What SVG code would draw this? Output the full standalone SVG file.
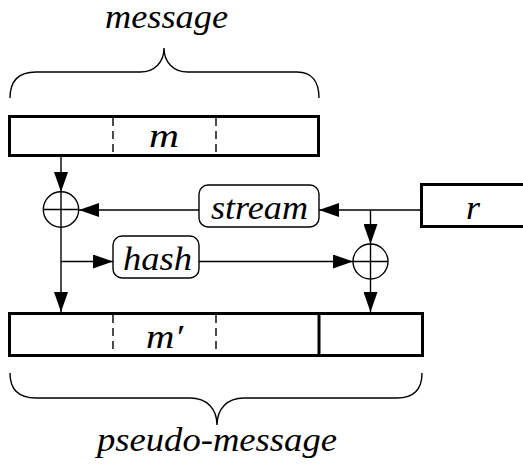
<svg xmlns="http://www.w3.org/2000/svg" width="523" height="465" viewBox="0 0 523 465">
<style>
.thick{fill:#fff;stroke:#000;stroke-width:3}
.thin{fill:none;stroke:#000;stroke-width:1.4}
.dash{fill:none;stroke:#000;stroke-width:1.4;stroke-dasharray:8,5}
.rbox{fill:#fff;stroke:#000;stroke-width:1.4}
.xor{fill:#fff;stroke:#000;stroke-width:1.4}
.t{font-family:"Liberation Serif","Times New Roman",serif;font-style:italic;font-size:33px;fill:#000}
</style>
<defs>
<marker id="arr" markerUnits="userSpaceOnUse" markerWidth="20" markerHeight="14" refX="20" refY="7" orient="auto">
<path d="M0,0 L20,7 L0,14 Z" fill="#000"/>
</marker>
</defs>
<g id="message-brace">
<path class="thin" d="M10,98 C10,82 18,72 36,72 L140,72 C155,72 164,62 164,48 C164,62 173,72 188,72 L297,72 C312,72 319,82 319,98"/>
<text class="t" x="105" y="28" textLength="123" lengthAdjust="spacingAndGlyphs">message</text>
</g>
<g id="message-box">
<rect class="thick" x="9.5" y="116.5" width="309" height="39"/>
<line class="dash" x1="113" y1="118" x2="113" y2="154"/>
<line class="dash" x1="216" y1="118" x2="216" y2="154"/>
<text class="t" x="149" y="147" textLength="30" lengthAdjust="spacingAndGlyphs">m</text>
</g>
<g id="connectors">
<line class="thin" x1="61" y1="157" x2="61" y2="192" marker-end="url(#arr)"/>
<line class="thin" x1="199" y1="210" x2="79" y2="210" marker-end="url(#arr)"/>
<line class="thin" x1="421" y1="210" x2="319" y2="210" marker-end="url(#arr)"/>
<line class="thin" x1="370.5" y1="210" x2="370.5" y2="244" marker-end="url(#arr)"/>
<line class="thin" x1="61" y1="227" x2="61" y2="312" marker-end="url(#arr)"/>
<line class="thin" x1="61" y1="261.5" x2="113" y2="261.5" marker-end="url(#arr)"/>
<line class="thin" x1="199" y1="261.5" x2="353" y2="261.5" marker-end="url(#arr)"/>
<line class="thin" x1="370.5" y1="279" x2="370.5" y2="312" marker-end="url(#arr)"/>
</g>
<g id="xor1">
<circle class="xor" cx="61" cy="209.5" r="17.7"/>
<line class="thin" x1="43.3" y1="209.5" x2="78.7" y2="209.5"/>
<line class="thin" x1="61" y1="191.8" x2="61" y2="227.2"/>
</g>
<g id="stream">
<rect class="rbox" x="199" y="185" width="120" height="42" rx="9"/>
<text class="t" x="211" y="219" textLength="97" lengthAdjust="spacingAndGlyphs">stream</text>
</g>
<g id="r">
<rect class="thick" x="421.5" y="184.5" width="110" height="42"/>
<text class="t" x="466" y="219" textLength="14" lengthAdjust="spacingAndGlyphs">r</text>
</g>
<g id="hash">
<rect class="rbox" x="113" y="236" width="86" height="42" rx="9"/>
<text class="t" x="123" y="270" textLength="69" lengthAdjust="spacingAndGlyphs">hash</text>
</g>
<g id="xor2">
<circle class="xor" cx="370.5" cy="261.5" r="17.5"/>
<line class="thin" x1="353" y1="261.5" x2="388" y2="261.5"/>
<line class="thin" x1="370.5" y1="244" x2="370.5" y2="279"/>
</g>
<g id="pseudo-box">
<rect class="thick" x="9.5" y="313.5" width="413" height="42"/>
<line class="thick" x1="319" y1="314" x2="319" y2="355"/>
<line class="dash" x1="113" y1="315" x2="113" y2="354"/>
<line class="dash" x1="216" y1="315" x2="216" y2="354"/>
<text class="t" x="146" y="348" textLength="37" lengthAdjust="spacingAndGlyphs">m′</text>
</g>
<g id="pseudo-brace">
<path class="thin" d="M10,373 C10,389 18,398 36,398 L190,398 C207,398 217,409 217,425 C217,409 227,398 244,398 L397,398 C414,398 422,389 422,373"/>
<text class="t" x="97" y="451" textLength="240" lengthAdjust="spacingAndGlyphs">pseudo-message</text>
</g>
</svg>
